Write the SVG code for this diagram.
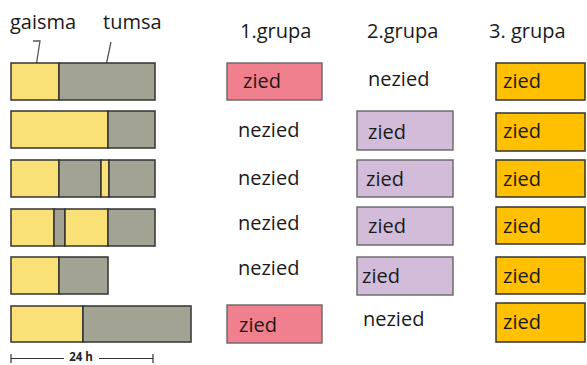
<svg xmlns="http://www.w3.org/2000/svg" width="587" height="365" viewBox="0 0 587 365">
  <style>
    .t { font-family: "Open Sans", "Liberation Sans", sans-serif; font-size: 20px; fill: #1a1a1a; }
    .light { fill: #F9E077; stroke: #333; stroke-width: 1.5; }
    .dark { fill: #A3A394; stroke: #333; stroke-width: 1.5; }
    .g1 { fill: #F0808E; stroke: #666; stroke-width: 1.4; }
    .g2 { fill: #D2BCDA; stroke: #666; stroke-width: 1.4; }
    .g3 { fill: #FFC000; stroke: #333; stroke-width: 1.5; }
    .lead { fill: none; stroke: #555; stroke-width: 1.3; }
    .scale { fill: none; stroke: #333; stroke-width: 1.2; }
  </style>

  <!-- legend labels -->
  <g id="legend">
    <text class="t" x="10" y="29">gaisma</text>
    <text class="t" x="103" y="29">tumsa</text>
  </g>
  <g id="connectors">
    <path class="lead" d="M33,41 L40,41 L35,73"/>
    <path class="lead" d="M111,42 L104,75"/>
  </g>

  <!-- column headers -->
  <g id="headers">
    <text class="t" x="240" y="38">1.grupa</text>
    <text class="t" x="367" y="38">2.grupa</text>
    <text class="t" x="489" y="38">3. grupa</text>
  </g>

  <!-- light/dark cycles -->
  <g id="cycle1">
    <rect class="light" x="11" y="63" width="48" height="37"/>
    <rect class="dark" x="59" y="63" width="96" height="37"/>
  </g>
  <g id="cycle2">
    <rect class="light" x="11" y="111" width="97" height="37"/>
    <rect class="dark" x="108" y="111" width="47" height="37"/>
  </g>
  <g id="cycle3">
    <rect class="light" x="11" y="160" width="48" height="37"/>
    <rect class="dark" x="59" y="160" width="42" height="37"/>
    <rect class="light" x="101" y="160" width="8" height="37"/>
    <rect class="dark" x="109" y="160" width="46" height="37"/>
  </g>
  <g id="cycle4">
    <rect class="light" x="11" y="209" width="43" height="37"/>
    <rect class="dark" x="54" y="209" width="11" height="37"/>
    <rect class="light" x="65" y="209" width="43" height="37"/>
    <rect class="dark" x="108" y="209" width="47" height="37"/>
  </g>
  <g id="cycle5">
    <rect class="light" x="11" y="257" width="48" height="37"/>
    <rect class="dark" x="59" y="257" width="49" height="37"/>
  </g>
  <g id="cycle6">
    <rect class="light" x="11" y="306" width="72" height="36"/>
    <rect class="dark" x="83" y="306" width="108" height="36"/>
  </g>

  <!-- 24 h scale -->
  <g id="scale">
    <path class="scale" d="M11,354 V363 M11,358.5 H64 M99,358.5 H153 M153,354 V363"/>
    <text x="81" y="361" text-anchor="middle" style="font-family:'Open Sans','Liberation Sans',sans-serif;font-size:11.5px;font-weight:bold;fill:#222">24 h</text>
  </g>

  <!-- group 1 -->
  <g id="g1r1"><rect class="g1" x="227" y="63" width="95" height="37"/><text class="t" x="243" y="88">zied</text></g>
  <g id="g1r2"><text class="t" x="238" y="137">nezied</text></g>
  <g id="g1r3"><text class="t" x="238" y="185">nezied</text></g>
  <g id="g1r4"><text class="t" x="238" y="230">nezied</text></g>
  <g id="g1r5"><text class="t" x="238" y="275">nezied</text></g>
  <g id="g1r6"><rect class="g1" x="227" y="305" width="95" height="38"/><text class="t" x="239" y="332">zied</text></g>

  <!-- group 2 -->
  <g id="g2r1"><text class="t" x="368" y="86">nezied</text></g>
  <g id="g2r2"><rect class="g2" x="357" y="111" width="96" height="39"/><text class="t" x="368" y="139">zied</text></g>
  <g id="g2r3"><rect class="g2" x="357" y="160" width="96" height="37"/><text class="t" x="366" y="186">zied</text></g>
  <g id="g2r4"><rect class="g2" x="357" y="207" width="96" height="38"/><text class="t" x="368" y="233">zied</text></g>
  <g id="g2r5"><rect class="g2" x="357" y="257" width="96" height="38"/><text class="t" x="362" y="283">zied</text></g>
  <g id="g2r6"><text class="t" x="363" y="326">nezied</text></g>

  <!-- group 3 -->
  <g id="g3r1"><rect class="g3" x="496" y="63" width="89" height="37"/><text class="t" x="503" y="88">zied</text></g>
  <g id="g3r2"><rect class="g3" x="496" y="113" width="89" height="38"/><text class="t" x="503" y="138">zied</text></g>
  <g id="g3r3"><rect class="g3" x="496" y="160" width="89" height="37"/><text class="t" x="503" y="186">zied</text></g>
  <g id="g3r4"><rect class="g3" x="496" y="207" width="89" height="37"/><text class="t" x="503" y="233">zied</text></g>
  <g id="g3r5"><rect class="g3" x="496" y="257" width="89" height="37"/><text class="t" x="503" y="283">zied</text></g>
  <g id="g3r6"><rect class="g3" x="496" y="303" width="89" height="39"/><text class="t" x="503" y="329">zied</text></g>
</svg>
